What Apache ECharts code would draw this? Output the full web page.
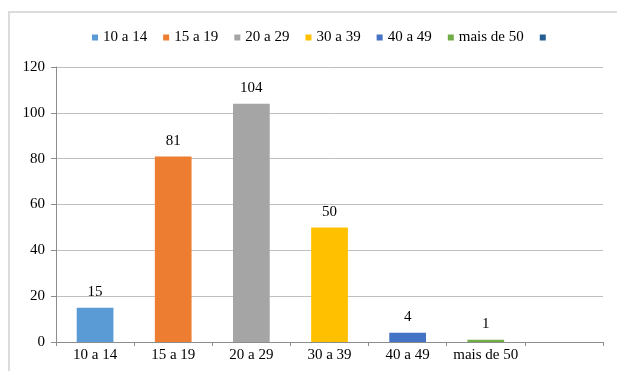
<!DOCTYPE html>
<html>
<head>
<meta charset="utf-8">
<script src="https://cdn.jsdelivr.net/npm/echarts@6/dist/echarts.min.js"></script>
<style>
  html, body { margin: 0; padding: 0; background: #fff; }
  #chart { width: 617px; height: 371px; }
</style>
</head>
<body>
<div id="chart"></div>
<script>
// Age groups and counts
const categories = ['10 a 14', '15 a 19', '20 a 29', '30 a 39', '40 a 49', 'mais de 50', ''];
const seriesNames = ['10 a 14', '15 a 19', '20 a 29', '30 a 39', '40 a 49', 'mais de 50', ' '];
const counts = [15, 81, 104, 50, 4, 1, null];
const colors = ['#5B9BD5', '#ED7D31', '#A5A5A5', '#FFC000', '#4472C4', '#70AD47', '#255E91'];
const yTicks = { min: 0, max: 120, interval: 20 };

const font = 'Liberation Serif, Times New Roman, serif';

// One stacked series per age group, so each bar gets its own legend entry
const series = seriesNames.map((name, i) => ({
  name: name,
  type: 'bar',
  stack: 'total',
  barWidth: '47%',
  itemStyle: { color: colors[i] },
  label: {
    show: true,
    position: 'top',
    distance: 8,
    color: '#000',
    fontFamily: font,
    fontSize: 15
  },
  data: categories.map((c, j) => (j === i ? counts[j] : null))
}));

const chart = echarts.init(document.getElementById('chart'), null, { renderer: 'canvas' });
chart.setOption({
  animation: false,
  color: colors,
  textStyle: { fontFamily: font },
  legend: {
    top: 25,
    left: 87,
    itemWidth: 6,
    itemHeight: 6,
    itemGap: 16,
    icon: 'rect',
    textStyle: { fontFamily: font, fontSize: 15, color: '#000' },
    data: seriesNames
  },
  grid: { left: 56, right: 14, top: 67, bottom: 29, containLabel: false },
  xAxis: {
    type: 'category',
    data: categories,
    axisLine: { lineStyle: { color: '#8c8c8c', width: 1 } },
    axisTick: { show: true, length: 4, lineStyle: { color: '#8c8c8c' } },
    axisLabel: { interval: 0, fontFamily: font, fontSize: 15, color: '#000', margin: 6 }
  },
  yAxis: {
    type: 'value',
    min: yTicks.min,
    max: yTicks.max,
    interval: yTicks.interval,
    axisLine: { show: true, lineStyle: { color: '#8c8c8c', width: 1 } },
    axisTick: { show: true, length: 5, lineStyle: { color: '#8c8c8c' } },
    axisLabel: { fontFamily: font, fontSize: 15, color: '#000', margin: 11 },
    splitLine: { lineStyle: { color: '#bfbfbf', width: 1 } }
  },
  series: series,
  graphic: [
    {
      type: 'polyline',
      silent: true,
      shape: { points: [[9, 371], [9, 12], [617, 12]] },
      style: { stroke: '#dcdcdc', lineWidth: 2, fill: null }
    }
  ]
});
</script>
</body>
</html>
